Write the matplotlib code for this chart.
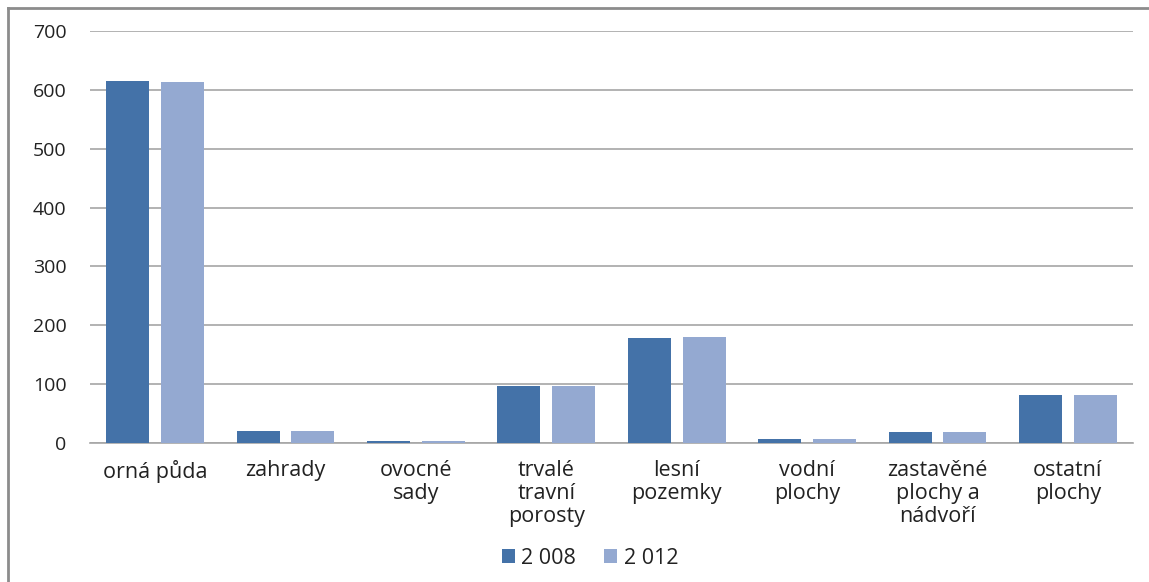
import matplotlib
matplotlib.use("Agg")
import matplotlib.pyplot as plt
from matplotlib.lines import Line2D
import numpy as np

categories = ["orná půda", "zahrady", "ovocné\nsady", "trvalé\ntravní\nporosty",
              "lesní\npozemky", "vodní\nplochy", "zastavěné\nplochy a\nnádvoří", "ostatní\nplochy"]
series_names = ["2 008", "2 012"]
values_2008 = [615, 20, 3, 97, 178, 6, 18, 81]
values_2012 = [613, 20, 3, 97, 180, 6, 18, 81]
yticks = [0, 100, 200, 300, 400, 500, 600, 700]

c2008 = "#4472A8"
c2012 = "#94A9D1"

plt.rcParams['font.family'] = ['Open Sans', 'DejaVu Sans']

fig = plt.figure(figsize=(11.49, 5.82), dpi=100)
ax = fig.add_axes([90/1149, 139/582, (1133-90)/1149, (443-31)/582])

x = np.arange(len(categories))
w = 0.33
off = 0.21
ax.bar(x - off, values_2008, width=w, color=c2008, label=series_names[0], zorder=3)
ax.bar(x + off, values_2012, width=w, color=c2012, label=series_names[1], zorder=3)

ax.set_xlim(-0.5, len(categories) - 0.5)
ax.set_ylim(0, 700)
ax.set_yticks(yticks)
ax.set_yticklabels([str(t) for t in yticks], fontsize=14, color="#222222")
ax.set_xticks(x)
ax.set_xticklabels(categories, fontsize=15.5, color="#222222", linespacing=1.15, va="top")
ax.tick_params(axis='y', length=0, pad=17)
ax.tick_params(axis='x', length=0, pad=12)
ax.grid(axis='y', color="#a6a6a6", linewidth=1.2, zorder=0)
for s in ["left", "right", "top"]:
    ax.spines[s].set_visible(False)
ax.spines["bottom"].set_color("#a6a6a6")
ax.spines["bottom"].set_linewidth(1.2)

leg = fig.legend(loc="center", bbox_to_anchor=(590/1149, 1 - 558/582), ncol=2, frameon=False,
                 fontsize=15.5, handlelength=0.6, handleheight=0.6, handletextpad=0.3,
                 columnspacing=1.3)
for t in leg.get_texts():
    t.set_color("#222222")

# outer frame
fig.add_artist(Line2D([8/1149, 8/1149], [0, 1 - 8/582], color="#8c8c8c", linewidth=2, transform=fig.transFigure))
fig.add_artist(Line2D([8/1149, 1.0], [1 - 8/582, 1 - 8/582], color="#8c8c8c", linewidth=2, transform=fig.transFigure))

fig.savefig("out.png", dpi=100)
